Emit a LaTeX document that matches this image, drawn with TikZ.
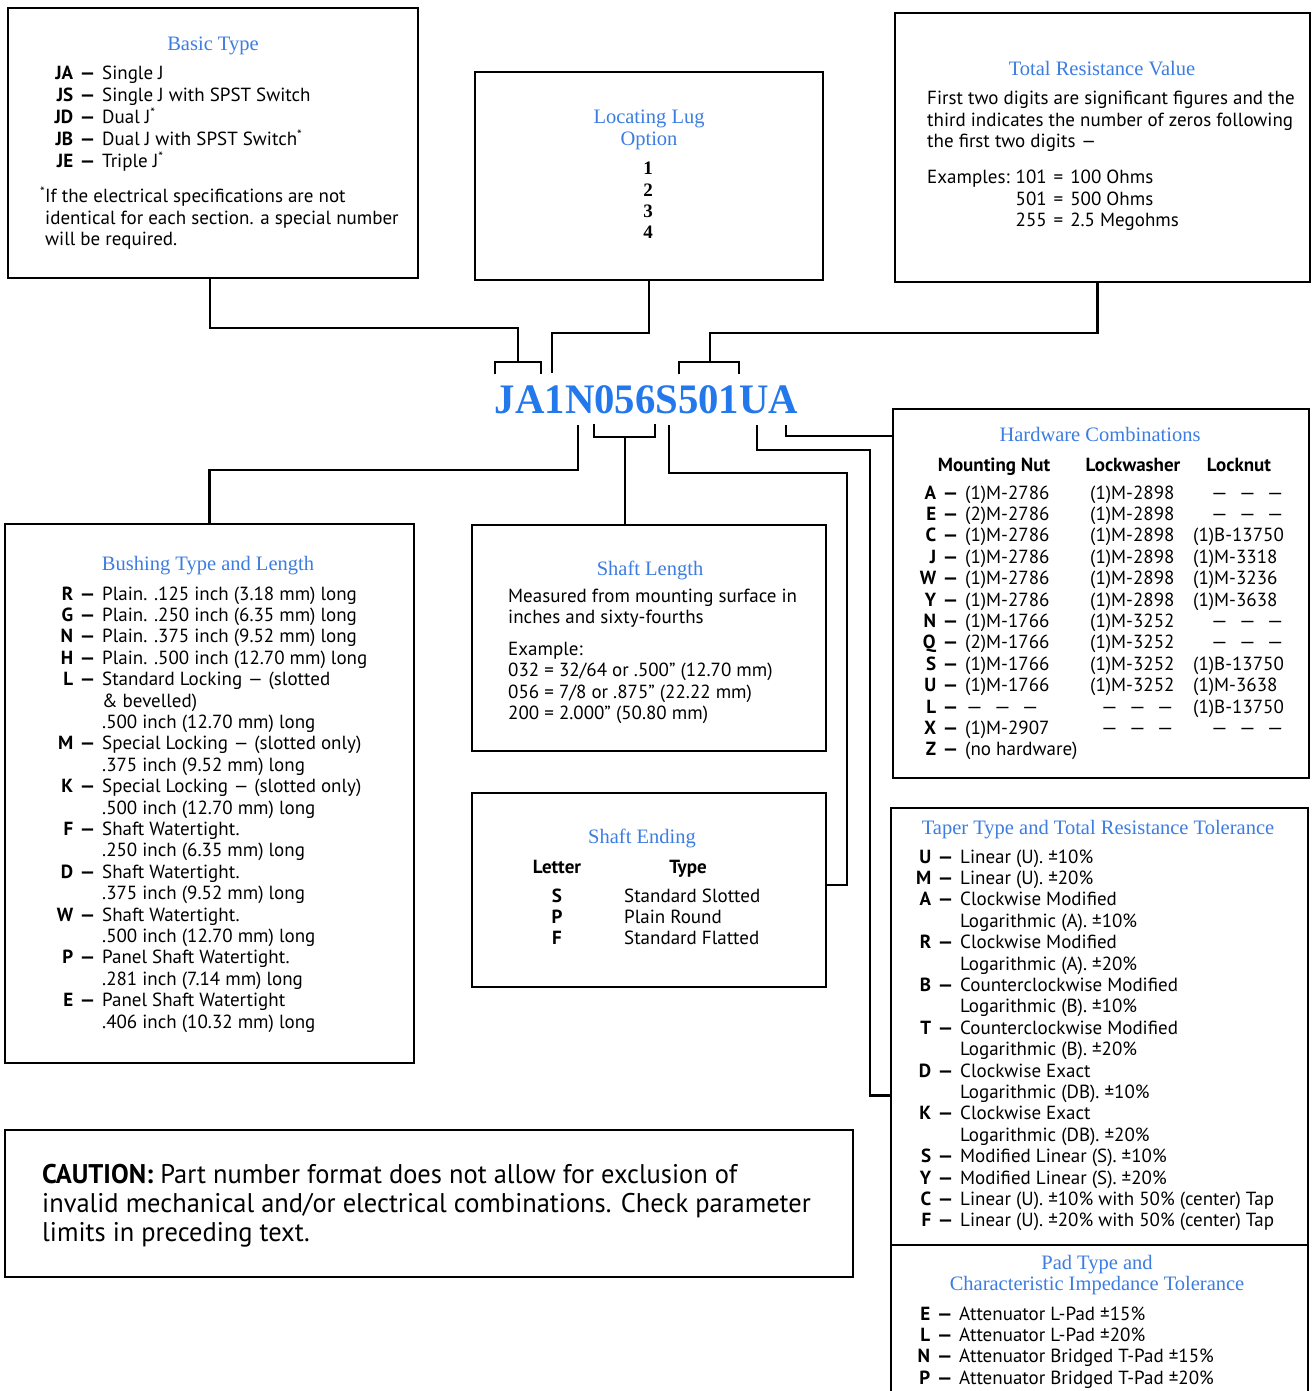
\documentclass[tikz,border=0pt]{standalone}
\usepackage{fontspec}
\usepackage{graphicx}
\setmainfont{PT Sans}
\newfontfamily\seriffont{Liberation Serif}
\usetikzlibrary{calc}
\definecolor{titleblue}{RGB}{60,125,225}
\definecolor{partblue}{RGB}{35,120,235}
% code dash, long dash and blank entries
\newcommand\dsh{\textbf{\scalebox{1.35}[1]{–}}}
\newcommand\ldsh{\scalebox{1.3}[1]{–}}
\newcommand\ld{\scalebox{1.5}[1]{–}}
\newcommand\blank{\ld\hspace{9pt}\ld\hspace{9pt}\ld}
\newlength\codew
\setlength\codew{18pt}
\newcommand\itm[2]{\makebox[\codew][r]{\textbf{#1}}\makebox[29pt]{\dsh}#2}
\newcommand\cnt[1]{\hspace{\codew}\hspace{29pt}#1}
\begin{document}
\begin{tikzpicture}[x=1pt,y=-1pt,
  panel/.style={draw, line width=2.4pt, anchor=north west, inner sep=0pt, outer sep=0pt},
  conn/.style={line width=2.4pt},
  ttl/.style={font=\seriffont\fontsize{20.5}{21.4}\selectfont, text=titleblue, anchor=base, inner sep=0pt},
  txt/.style={font=\fontsize{19}{21.4}\selectfont, anchor=base west, inner sep=0pt},
  ctxt/.style={font=\fontsize{19}{21.4}\selectfont, anchor=base, inner sep=0pt},
  hdr/.style={font=\bfseries\fontsize{19}{21.4}\selectfont, anchor=base, inner sep=0pt}]
\useasboundingbox (0,0) rectangle (1314,1391);
\fill[white] (0,0) rectangle (1314,1391);

% ---------------- panels ----------------
\node[panel, minimum width=410pt, minimum height=270pt] (basic) at (8,8) {};
\node[panel, minimum width=348pt, minimum height=208pt] (loc) at (475,72) {};
\node[panel, minimum width=415pt, minimum height=269pt] (tot) at (895,13) {};
\node[panel, minimum width=416pt, minimum height=369pt] (hw) at (893,409) {};
\node[panel, minimum width=409pt, minimum height=539pt] (bush) at (5,524) {};
\node[panel, minimum width=354pt, minimum height=226pt] (slen) at (472,525) {};
\node[panel, minimum width=354pt, minimum height=194pt] (send) at (472,793) {};
\node[panel, minimum width=417pt, minimum height=437pt] (taper) at (891,808) {};
\node[panel, minimum width=417pt, minimum height=170pt] (pad) at (891,1245) {};
\node[panel, minimum width=848pt, minimum height=147pt] (caution) at (5,1130) {};

% ---------------- Basic Type ----------------
\node[ttl] (basicT) at (213,51) {Basic Type};
\node[txt] (basicL) at (47,80) {\setlength\codew{26pt}\begin{tabular}[t]{@{}l@{}}
\itm{JA}{Single J}\\
\itm{JS}{Single J with SPST Switch}\\
\itm{JD}{Dual J\textsuperscript{*}}\\
\itm{JB}{Dual J with SPST Switch\textsuperscript{*}}\\
\itm{JE}{Triple J\textsuperscript{*}}
\end{tabular}};
\node[txt] (basicN) at (45,203) {\begin{tabular}[t]{@{}l@{}}
\llap{\textsuperscript{*}}If the electrical specifications are not\\
identical for each section. a special number\\
will be required.
\end{tabular}};

% ---------------- Locating Lug ----------------
\node[ttl] (locT) at (649,124) {\begin{tabular}[t]{@{}c@{}}Locating Lug\\Option\end{tabular}};
\node[anchor=base, inner sep=0pt, font=\seriffont\bfseries\fontsize{19}{21.2}\selectfont] (locL) at (648,175)
  {\begin{tabular}[t]{@{}c@{}}1\\2\\3\\4\end{tabular}};

% ---------------- Total Resistance Value ----------------
\node[ttl] (totT) at (1102,76) {Total Resistance Value};
\node[txt] (totP) at (927,105) {\begin{tabular}[t]{@{}l@{}}
First two digits are significant figures and the\\
third indicates the number of zeros following\\
the first two digits \ldsh
\end{tabular}};
\node[txt] (totE) at (927,184) {\begin{tabular}[t]{@{}l@{}r@{\hspace{7pt}=\hspace{7pt}}l@{}}
Examples:\kern6pt & 101 & 100 Ohms\\
 & 501 & 500 Ohms\\
 & 255 & 2.5 Megohms
\end{tabular}};

% ---------------- part number ----------------
\node[anchor=base, inner sep=0pt, text=partblue, font=\seriffont\bfseries\fontsize{42}{42}\selectfont]
  (pn) at (646.5,413) {\scalebox{0.97}[1]{JA1N056S501UA}};

% connection points on the part number
\coordinate (ja) at (518,362);
\coordinate (one) at (552,373);
\coordinate (c501) at (710,362);
\coordinate (cN) at (578,425);
\coordinate (c056) at (625,437);
\coordinate (cS) at (669,425);
\coordinate (cU) at (757,425);
\coordinate (cA) at (786,425);

% brackets over character groups
\draw[conn] (495,374) |- (541,362) -- (541,374);
\draw[conn] (679,374) |- (739,362) -- (739,374);
\draw[conn] (594,424) |- (655,437) -- (655,424);

% ---------------- connectors ----------------
\draw[conn] ([xshift=-3pt]basic.south) -- ++(0,50) -| (ja);
\draw[conn] (loc.south) -- ++(0,53) -| (one);
\draw[conn] ([xshift=-5pt]tot.south) -- ++(0,51) -| (c501);
\draw[conn] (cN) -- ++(0,45) -| (bush.north);
\draw[conn] (c056) -- (c056 |- slen.north);
\draw[conn] (cS) -- ++(0,48) -| ($(send.east)+(21,-5)$) -- ($(send.east)+(0,-5)$);
\draw[conn] (cU) -- ++(0,25) -| ($(taper.west)+(-21,69)$) -- ($(taper.west)+(0,69)$);
\draw[conn] (cA) |- ($(hw.north west)+(0,27)$);

% ---------------- Hardware Combinations ----------------
\node[ttl] (hwT) at (1100,441) {Hardware Combinations};
\node[hdr] (hwH1) at (994,471) {Mounting Nut};
\node[hdr] (hwH2) at (1133,471) {Lockwasher};
\node[hdr] (hwH3) at (1239,471) {Locknut};
\node[txt] (hwL) at (918,499) {\begin{tabular}[t]{@{}p{172pt}@{}p{103pt}@{}l@{}}
\itm{A}{(1)M-2786} & (1)M-2898 & \hspace{17pt}\blank\\
\itm{E}{(2)M-2786} & (1)M-2898 & \hspace{17pt}\blank\\
\itm{C}{(1)M-2786} & (1)M-2898 & (1)B-13750\\
\itm{J}{(1)M-2786} & (1)M-2898 & (1)M-3318\\
\itm{W}{(1)M-2786} & (1)M-2898 & (1)M-3236\\
\itm{Y}{(1)M-2786} & (1)M-2898 & (1)M-3638\\
\itm{N}{(1)M-1766} & (1)M-3252 & \hspace{17pt}\blank\\
\itm{Q}{(2)M-1766} & (1)M-3252 & \hspace{17pt}\blank\\
\itm{S}{(1)M-1766} & (1)M-3252 & (1)B-13750\\
\itm{U}{(1)M-1766} & (1)M-3252 & (1)M-3638\\
\itm{L}{\blank} & \hspace{10pt}\blank & (1)B-13750\\
\itm{X}{(1)M-2907} & \hspace{10pt}\blank & \hspace{17pt}\blank\\
\multicolumn{3}{@{}l@{}}{\itm{Z}{(no hardware)}}
\end{tabular}};

% ---------------- Bushing Type and Length ----------------
\node[ttl] (bushT) at (208,570) {Bushing Type and Length};
\node[txt] (bushL) at (55,600) {\begin{tabular}[t]{@{}l@{}}
\itm{R}{Plain. .125 inch (3.18 mm) long}\\
\itm{G}{Plain. .250 inch (6.35 mm) long}\\
\itm{N}{Plain. .375 inch (9.52 mm) long}\\
\itm{H}{Plain. .500 inch (12.70 mm) long}\\
\itm{L}{Standard Locking \ldsh{} (slotted}\\
\cnt{\& bevelled)}\\
\cnt{.500 inch (12.70 mm) long}\\
\itm{M}{Special Locking \ldsh{} (slotted only)}\\
\cnt{.375 inch (9.52 mm) long}\\
\itm{K}{Special Locking \ldsh{} (slotted only)}\\
\cnt{.500 inch (12.70 mm) long}\\
\itm{F}{Shaft Watertight.}\\
\cnt{.250 inch (6.35 mm) long}\\
\itm{D}{Shaft Watertight.}\\
\cnt{.375 inch (9.52 mm) long}\\
\itm{W}{Shaft Watertight.}\\
\cnt{.500 inch (12.70 mm) long}\\
\itm{P}{Panel Shaft Watertight.}\\
\cnt{.281 inch (7.14 mm) long}\\
\itm{E}{Panel Shaft Watertight}\\
\cnt{.406 inch (10.32 mm) long}
\end{tabular}};

% ---------------- Shaft Length ----------------
\node[ttl] (slenT) at (650,575) {Shaft Length};
\node[txt] (slenL) at (508,602) {\begin{tabular}[t]{@{}l@{}}
Measured from mounting surface in\\
inches and sixty-fourths\\[10.6pt]
Example:\\
032 = 32/64 or .500" (12.70 mm)\\
056 = 7/8 or .875" (22.22 mm)\\
200 = 2.000" (50.80 mm)
\end{tabular}};

% ---------------- Shaft Ending ----------------
\node[ttl] (sendT) at (642,843) {Shaft Ending};
\node[hdr] (sendH1) at (557,873) {Letter};
\node[hdr] (sendH2) at (688,873) {Type};
\node[hdr] (sendC) at (557,902) {\begin{tabular}[t]{@{}c@{}}S\\P\\F\end{tabular}};
\node[txt] (sendL) at (624,902) {\begin{tabular}[t]{@{}l@{}}
Standard Slotted\\
Plain Round\\
Standard Flatted
\end{tabular}};

% ---------------- Taper Type ----------------
\node[ttl] (taperT) at (1098,834) {Taper Type and Total Resistance Tolerance};
\node[txt] (taperL) at (913,863) {\begin{tabular}[t]{@{}l@{}}
\itm{U}{Linear (U). ±10\%}\\
\itm{M}{Linear (U). ±20\%}\\
\itm{A}{Clockwise Modified}\\
\cnt{Logarithmic (A). ±10\%}\\
\itm{R}{Clockwise Modified}\\
\cnt{Logarithmic (A). ±20\%}\\
\itm{B}{Counterclockwise Modified}\\
\cnt{Logarithmic (B). ±10\%}\\
\itm{T}{Counterclockwise Modified}\\
\cnt{Logarithmic (B). ±20\%}\\
\itm{D}{Clockwise Exact}\\
\cnt{Logarithmic (DB). ±10\%}\\
\itm{K}{Clockwise Exact}\\
\cnt{Logarithmic (DB). ±20\%}\\
\itm{S}{Modified Linear (S). ±10\%}\\
\itm{Y}{Modified Linear (S). ±20\%}\\
\itm{C}{Linear (U). ±10\% with 50\% (center) Tap}\\
\itm{F}{Linear (U). ±20\% with 50\% (center) Tap}
\end{tabular}};

% ---------------- Pad Type ----------------
\node[ttl] (padT) at (1097,1269) {\begin{tabular}[t]{@{}c@{}}Pad Type and\\Characteristic Impedance Tolerance\end{tabular}};
\node[txt] (padL) at (912,1320) {\begin{tabular}[t]{@{}l@{}}
\itm{E}{Attenuator L-Pad ±15\%}\\
\itm{L}{Attenuator L-Pad ±20\%}\\
\itm{N}{Attenuator Bridged T-Pad ±15\%}\\
\itm{P}{Attenuator Bridged T-Pad ±20\%}
\end{tabular}};

% ---------------- Caution ----------------
\node[anchor=base west, inner sep=0pt, font=\fontsize{27}{29}\selectfont] (cautionL) at (42,1183)
{\scalebox{0.98}[1]{\begin{tabular}[t]{@{}l@{}}
\textbf{CAUTION:} Part number format does not allow for exclusion of\\
invalid mechanical and/or electrical combinations. Check parameter\\
limits in preceding text.
\end{tabular}}};
\end{tikzpicture}
\end{document}
